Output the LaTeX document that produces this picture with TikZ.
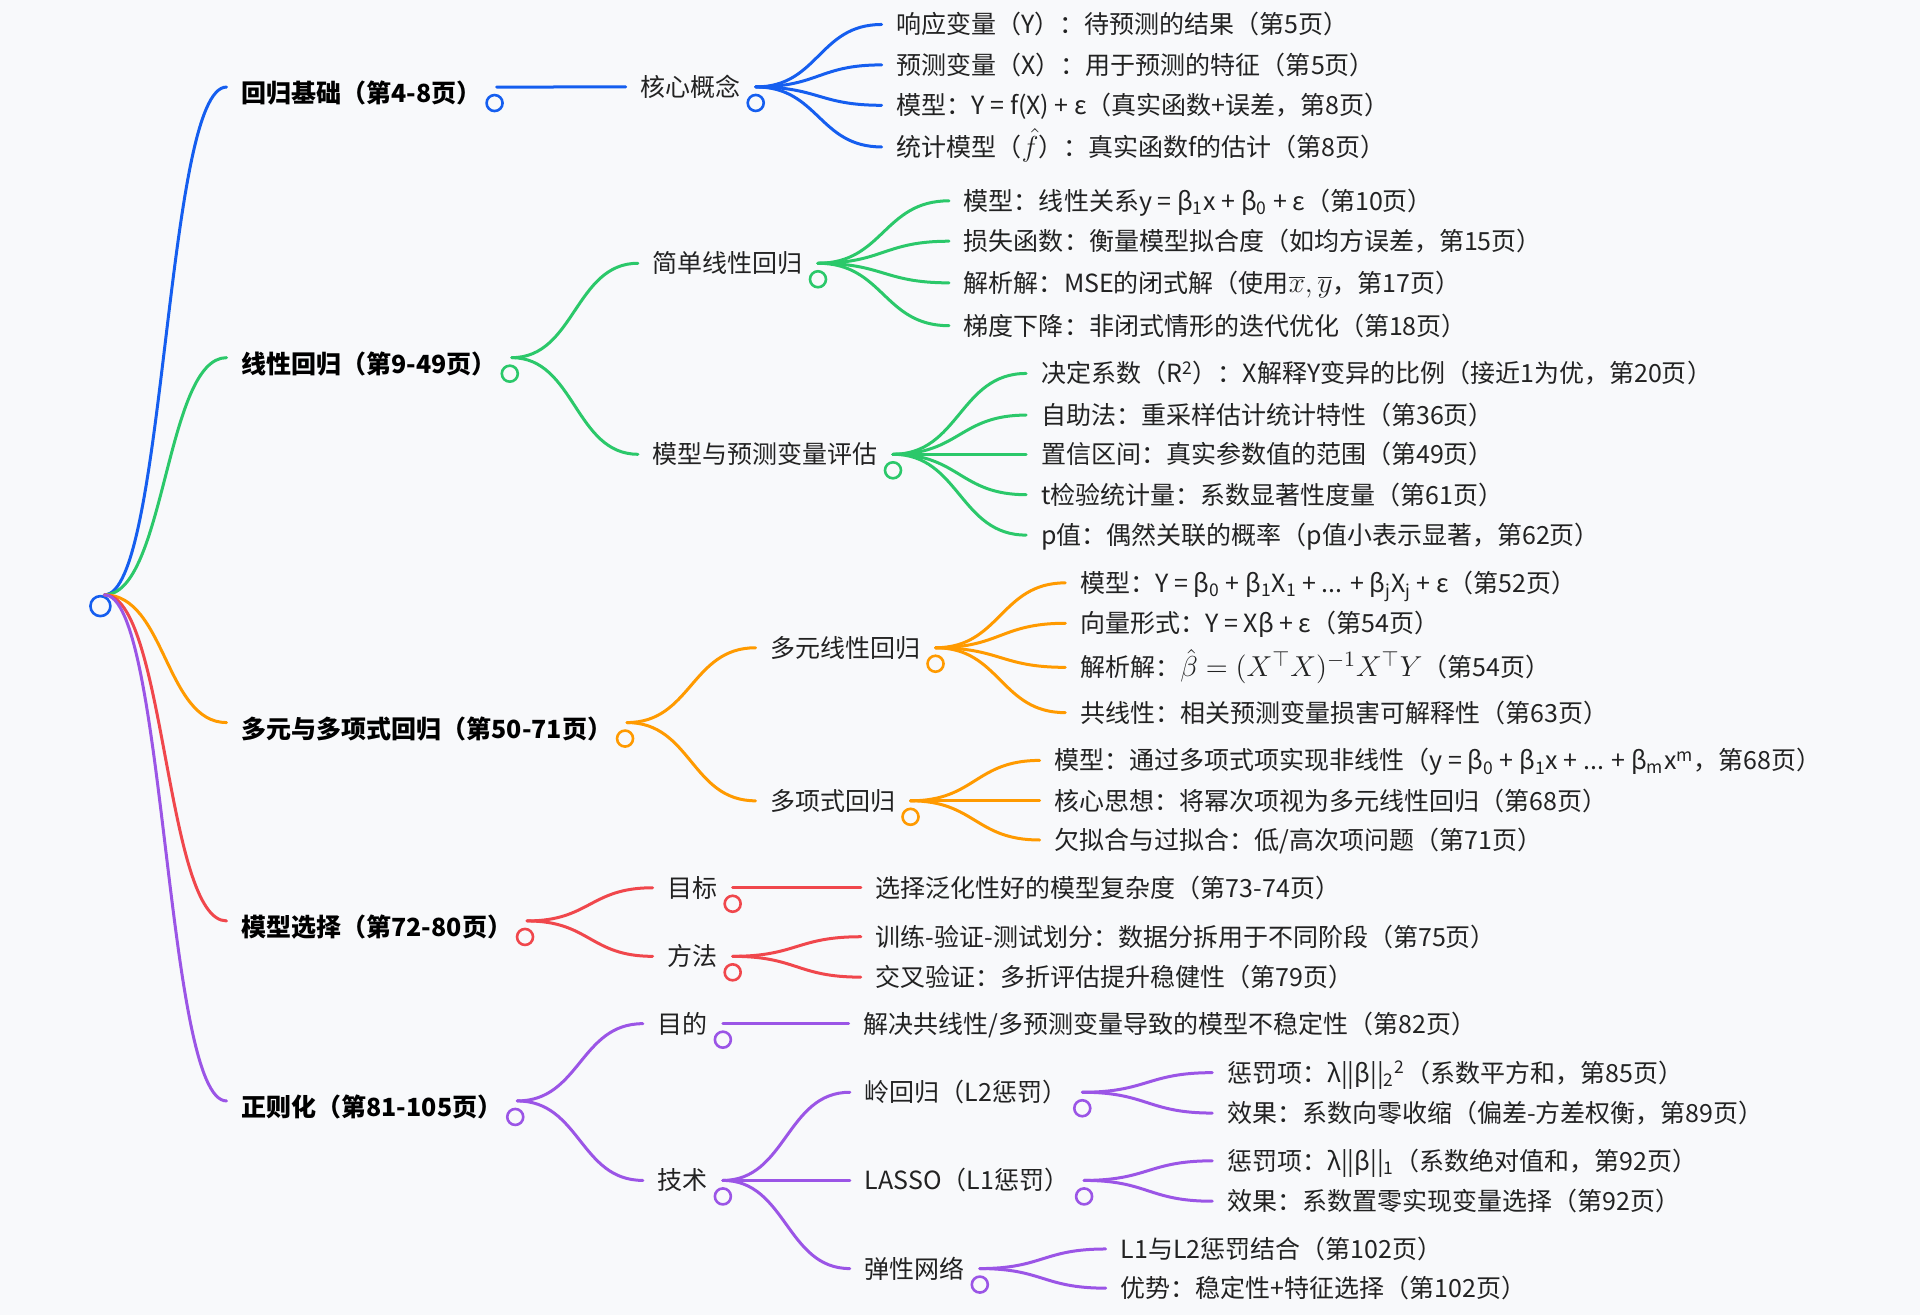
\documentclass[tikz,border=0pt]{standalone}
\usepackage{fontspec}
\setmainfont{Noto Sans CJK SC}
\usetikzlibrary{calc}
\definecolor{paper}{HTML}{F8F9FB}
\definecolor{ink}{HTML}{222222}
\definecolor{blueC}{HTML}{155EEF}
\definecolor{greenC}{HTML}{2BC86A}
\definecolor{orangeC}{HTML}{FF9A00}
\definecolor{redC}{HTML}{F0474C}
\definecolor{purpleC}{HTML}{9B55E6}
\newcommand\kmath[1]{{\fontsize{15pt}{18pt}\selectfont$#1$}}
\tikzset{
  txt/.style={anchor=west, inner xsep=7.3pt, inner ysep=0pt, text height=11pt, text depth=1.5pt, text=ink, font=\fontsize{12.5pt}{15pt}\selectfont},
  head/.style={txt, text=black, font=\fontsize{12.5pt}{15pt}\selectfont\bfseries},
  knob/.style={circle, draw=#1, fill=paper, line width=1.3pt, minimum size=8pt, inner sep=0pt},
  link/.style={draw=#1, line width=1.5pt, line cap=round, to path={let \p1=(\tikztostart), \p2=(\tikztotarget) in .. controls ({0.5*\x1+0.5*\x2},\y1) and ({0.5*\x1+0.5*\x2},\y2) .. (\tikztotarget)}}
}

\begin{document}
\begin{tikzpicture}[x=0.6122pt, y=-0.6122pt]
  \useasboundingbox (0,0) rectangle (1568,1074);
  \fill[paper] (0,0) rectangle (1568,1074);

  \node[knob=blueC, minimum size=10pt] (root) at (82,495) {};

  % regression basics
  \node[head] (base) at (185,76) {回归基础（第4-8页）};
  \node[knob=blueC] (basek) at ([xshift=-1pt,yshift=-5pt]base.east) {};
  \node[txt] (core) at (511,71) {核心概念};
  \node[knob=blueC] (corek) at ([yshift=-8pt]core.east) {};
  \node[txt] (core1) at (720,20) {响应变量（Y）：待预测的结果（第5页）};
  \node[txt] (core2) at (720,53) {预测变量（X）：用于预测的特征（第5页）};
  \node[txt] (core3) at (720,86) {模型：Y = f(X) + ε（真实函数+误差，第8页）};
  \node[txt] (core4) at (720,120) {统计模型（\kmath{\hat{f}}）：真实函数f的估计（第8页）};

  \draw[link=blueC] ([xshift=2pt]root.north) to ([yshift=3pt]base.west);
  \draw[link=blueC] ([yshift=3pt]base.east) to (core.west);
  \draw[link=blueC] (core.east) edge (core1.west) edge (core2.west) edge (core3.west) edge (core4.west);

  % linear regression
  \node[head] (lin) at (185,297) {线性回归（第9-49页）};
  \node[knob=greenC] (link) at ([xshift=-1pt,yshift=-5pt]lin.east) {};
  \node[txt] (slr) at (521,215) {简单线性回归};
  \node[knob=greenC] (slrk) at ([yshift=-8pt]slr.east) {};
  \node[txt] (slr1) at (775,164) {模型：线性关系y = β\textsubscript{1}x + β\textsubscript{0} + ε（第10页）};
  \node[txt] (slr2) at (775,197) {损失函数：衡量模型拟合度（如均方误差，第15页）};
  \node[txt] (slr3) at (775,231) {解析解：MSE的闭式解（使用\kmath{\overline{x}, \overline{y}}，第17页）};
  \node[txt] (slr4) at (775,266) {梯度下降：非闭式情形的迭代优化（第18页）};
  \node[txt] (eval) at (521,371) {模型与预测变量评估};
  \node[knob=greenC] (evalk) at ([yshift=-8pt]eval.east) {};
  \node[txt] (eval1) at (838,305) {决定系数（R\textsuperscript{2}）：X解释Y变异的比例（接近1为优，第20页）};
  \node[txt] (eval2) at (838,339) {自助法：重采样估计统计特性（第36页）};
  \node[txt] (eval3) at (838,371) {置信区间：真实参数值的范围（第49页）};
  \node[txt] (eval4) at (838,404) {t检验统计量：系数显著性度量（第61页）};
  \node[txt] (eval5) at (838,437) {p值：偶然关联的概率（p值小表示显著，第62页）};

  \draw[link=greenC] ([xshift=2pt]root.north) to ([yshift=3pt]lin.west);
  \draw[link=greenC] ([yshift=3pt]lin.east) edge (slr.west) edge (eval.west);
  \draw[link=greenC] (slr.east) edge (slr1.west) edge (slr2.west) edge (slr3.west) edge (slr4.west);
  \draw[link=greenC] (eval.east) edge (eval1.west) edge (eval2.west) edge (eval3.west) edge (eval4.west) edge (eval5.west);

  % multiple and polynomial regression
  \node[head] (multi) at (185,595) {多元与多项式回归（第50-71页）};
  \node[knob=orangeC] (multik) at ([xshift=-1pt,yshift=-5pt]multi.east) {};
  \node[txt] (mlr) at (617,529) {多元线性回归};
  \node[knob=orangeC] (mlrk) at ([yshift=-8pt]mlr.east) {};
  \node[txt] (mlr1) at (870,476) {模型：Y = β\textsubscript{0} + β\textsubscript{1}X\textsubscript{1} + ... + β\textsubscript{j}X\textsubscript{j} + ε（第52页）};
  \node[txt] (mlr2) at (870,509) {向量形式：Y = Xβ + ε（第54页）};
  \node[txt] (mlr3) at (870,545) {解析解：\kmath{\hat{\beta} = (X^\top X)^{-1}X^\top Y}（第54页）};
  \node[txt] (mlr4) at (870,582) {共线性：相关预测变量损害可解释性（第63页）};
  \node[txt] (poly) at (617,654) {多项式回归};
  \node[knob=orangeC] (polyk) at ([yshift=-8pt]poly.east) {};
  \node[txt] (poly1) at (849,621) {模型：通过多项式项实现非线性（y = β\textsubscript{0} + β\textsubscript{1}x + ... + β\textsubscript{m}x\textsuperscript{m}，第68页）};
  \node[txt] (poly2) at (849,654) {核心思想：将幂次项视为多元线性回归（第68页）};
  \node[txt] (poly3) at (849,686) {欠拟合与过拟合：低/高次项问题（第71页）};

  \draw[link=orangeC] ([xshift=2pt]root.north) to ([yshift=3pt]multi.west);
  \draw[link=orangeC] ([yshift=3pt]multi.east) edge (mlr.west) edge (poly.west);
  \draw[link=orangeC] (mlr.east) edge (mlr1.west) edge (mlr2.west) edge (mlr3.west) edge (mlr4.west);
  \draw[link=orangeC] (poly.east) edge (poly1.west) edge (poly2.west) edge (poly3.west);

  % model selection
  \node[head] (sel) at (185,757) {模型选择（第72-80页）};
  \node[knob=redC] (selk) at ([xshift=-1pt,yshift=-5pt]sel.east) {};
  \node[txt] (goal) at (533,725) {目标};
  \node[knob=redC] (goalk) at ([yshift=-8pt]goal.east) {};
  \node[txt] (goal1) at (703,725) {选择泛化性好的模型复杂度（第73-74页）};
  \node[txt] (meth) at (533,781) {方法};
  \node[knob=redC] (methk) at ([yshift=-8pt]meth.east) {};
  \node[txt] (meth1) at (703,765) {训练-验证-测试划分：数据分拆用于不同阶段（第75页）};
  \node[txt] (meth2) at (703,798) {交叉验证：多折评估提升稳健性（第79页）};

  \draw[link=redC] ([xshift=2pt]root.north) to ([yshift=3pt]sel.west);
  \draw[link=redC] ([yshift=3pt]sel.east) edge (goal.west) edge (meth.west);
  \draw[link=redC] (goal.east) edge (goal1.west);
  \draw[link=redC] (meth.east) edge (meth1.west) edge (meth2.west);

  % regularisation
  \node[head] (reg) at (185,904) {正则化（第81-105页）};
  \node[knob=purpleC] (regk) at ([xshift=-1pt,yshift=-5pt]reg.east) {};
  \node[txt] (aim) at (525,836) {目的};
  \node[knob=purpleC] (aimk) at ([yshift=-8pt]aim.east) {};
  \node[txt] (aim1) at (693,836) {解决共线性/多预测变量导致的模型不稳定性（第82页）};
  \node[txt] (tech) at (525,964) {技术};
  \node[knob=purpleC] (techk) at ([yshift=-8pt]tech.east) {};
  \node[txt] (ridge) at (694,892) {岭回归（L2惩罚）};
  \node[knob=purpleC] (ridgek) at ([yshift=-8pt]ridge.east) {};
  \node[txt] (ridge1) at (990,876) {惩罚项：λ||β||\textsubscript{2}\textsuperscript{2}（系数平方和，第85页）};
  \node[txt] (ridge2) at (990,909) {效果：系数向零收缩（偏差-方差权衡，第89页）};
  \node[txt] (lasso) at (694,964) {LASSO（L1惩罚）};
  \node[knob=purpleC] (lassok) at ([yshift=-8pt]lasso.east) {};
  \node[txt] (lasso1) at (990,948) {惩罚项：λ||β||\textsubscript{1}（系数绝对值和，第92页）};
  \node[txt] (lasso2) at (990,981) {效果：系数置零实现变量选择（第92页）};
  \node[txt] (enet) at (694,1036) {弹性网络};
  \node[knob=purpleC] (enetk) at ([yshift=-8pt]enet.east) {};
  \node[txt] (enet1) at (903,1020) {L1与L2惩罚结合（第102页）};
  \node[txt] (enet2) at (903,1052) {优势：稳定性+特征选择（第102页）};

  \draw[link=purpleC] ([xshift=2pt]root.north) to ([yshift=3pt]reg.west);
  \draw[link=purpleC] ([yshift=3pt]reg.east) edge (aim.west) edge (tech.west);
  \draw[link=purpleC] (aim.east) edge (aim1.west);
  \draw[link=purpleC] (tech.east) edge (ridge.west) edge (lasso.west) edge (enet.west);
  \draw[link=purpleC] (ridge.east) edge (ridge1.west) edge (ridge2.west);
  \draw[link=purpleC] (lasso.east) edge (lasso1.west) edge (lasso2.west);
  \draw[link=purpleC] (enet.east) edge (enet1.west) edge (enet2.west);
\end{tikzpicture}
\end{document}
